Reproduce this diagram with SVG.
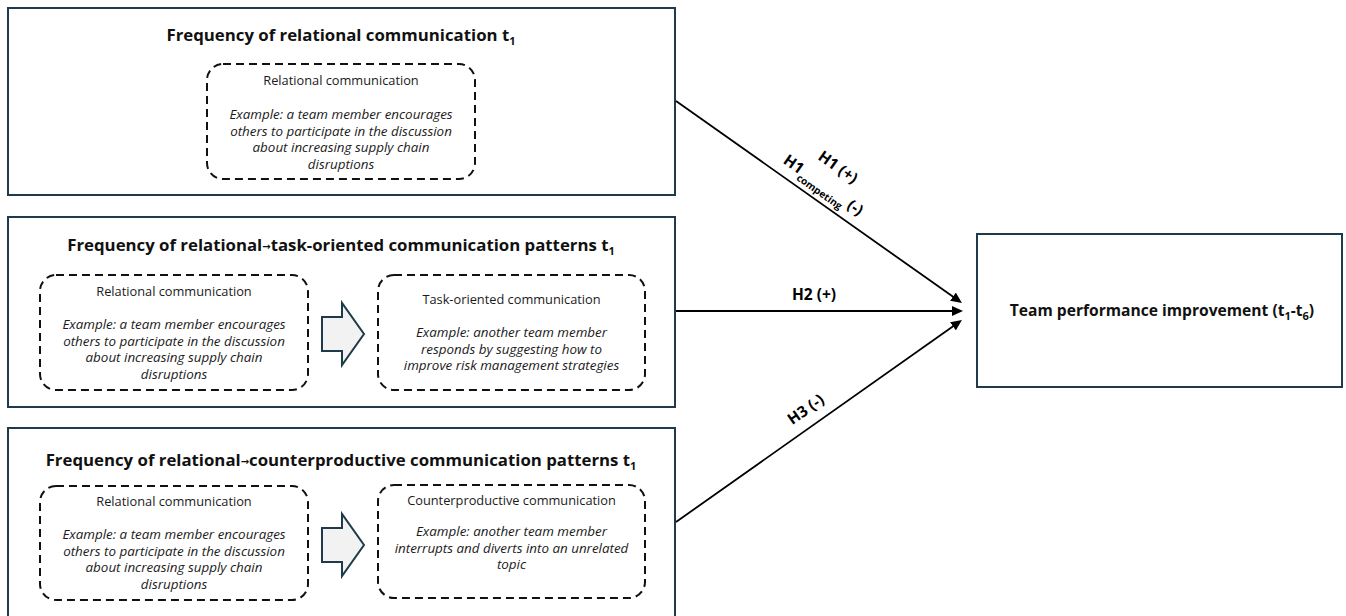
<svg xmlns="http://www.w3.org/2000/svg" width="1346" height="616" viewBox="0 0 1346 616">
  <defs>
    <style>
      .frame { fill: #ffffff; stroke: #1f3a4b; stroke-width: 2; }
      .dash { fill: none; stroke: #111111; stroke-width: 2; stroke-dasharray: 8 5; }
      .title { font-family: "Open Sans", "Liberation Sans", sans-serif; font-weight: bold; font-size: 16.8px; fill: #111111; text-anchor: middle; }
      .goal { font-family: "Open Sans", "Liberation Sans", sans-serif; font-weight: bold; font-size: 15.6px; fill: #111111; text-anchor: middle; }
      .head { font-family: "Open Sans", "Liberation Sans", sans-serif; font-size: 12.8px; fill: #1a1a1a; text-anchor: middle; }
      .ex { font-family: "Open Sans", "Liberation Sans", sans-serif; font-style: italic; font-size: 13.4px; fill: #1a1a1a; text-anchor: middle; }
      .sub { font-size: 11px; }
      .arw { font-family: "DejaVu Sans", sans-serif; font-size: 10px; font-weight: bold; }
      .block { fill: #f2f2f2; stroke: #1f3a4b; stroke-width: 2; stroke-linejoin: miter; }
      .link { fill: none; stroke: #000000; stroke-width: 1.8; }
      .lbl { font-family: "Open Sans", "Liberation Sans", sans-serif; font-weight: bold; font-size: 15.5px; fill: #000000; }
    </style>
    <marker id="ah" markerUnits="userSpaceOnUse" markerWidth="12" markerHeight="10" refX="8" refY="5" orient="auto">
      <path d="M0,0 L11,5 L0,10 z" fill="#000000"/>
    </marker>
  </defs>

  <rect width="1346" height="616" fill="#ffffff"/>

  <!-- Predictor 1: relational communication -->
  <g id="node-relational">
    <rect class="frame" x="8" y="8" width="667" height="187"/>
    <text class="title" x="341" y="41">Frequency of relational communication t<tspan class="sub" dy="4">1</tspan></text>
    <rect class="dash" x="207" y="64" width="268" height="115" rx="16"/>
    <text class="head" x="341" y="85">Relational communication</text>
    <text class="ex" x="341" y="119">Example: a team member encourages</text>
    <text class="ex" x="341" y="135.5">others to participate in the discussion</text>
    <text class="ex" x="341" y="152">about increasing supply chain</text>
    <text class="ex" x="341" y="168.5">disruptions</text>
  </g>

  <!-- Predictor 2: relational -> task-oriented pattern -->
  <g id="node-task-pattern">
    <rect class="frame" x="8" y="217" width="667" height="190"/>
    <text class="title" x="341" y="251">Frequency of relational<tspan class="arw" dy="-1">→</tspan><tspan dy="1">task-oriented communication patterns t</tspan><tspan class="sub" dy="4">1</tspan></text>
    <rect class="dash" x="40" y="275" width="268" height="115" rx="16"/>
    <text class="head" x="174" y="296">Relational communication</text>
    <text class="ex" x="174" y="329">Example: a team member encourages</text>
    <text class="ex" x="174" y="345.5">others to participate in the discussion</text>
    <text class="ex" x="174" y="362">about increasing supply chain</text>
    <text class="ex" x="174" y="378.5">disruptions</text>
    <path class="block" d="M322,317 H342 V303 L364,334 L342,365 V351 H322 Z"/>
    <rect class="dash" x="378" y="275" width="267" height="115" rx="16"/>
    <text class="head" x="511.5" y="304">Task-oriented communication</text>
    <text class="ex" x="511.5" y="337">Example: another team member</text>
    <text class="ex" x="511.5" y="353.5">responds by suggesting how to</text>
    <text class="ex" x="511.5" y="370">improve risk management strategies</text>
  </g>

  <!-- Predictor 3: relational -> counterproductive pattern -->
  <g id="node-counter-pattern">
    <rect class="frame" x="8" y="428" width="667" height="200"/>
    <text class="title" x="341" y="466">Frequency of relational<tspan class="arw" dy="-1">→</tspan><tspan dy="1">counterproductive communication patterns t</tspan><tspan class="sub" dy="4">1</tspan></text>
    <rect class="dash" x="40" y="486" width="268" height="114" rx="16"/>
    <text class="head" x="174" y="506">Relational communication</text>
    <text class="ex" x="174" y="539">Example: a team member encourages</text>
    <text class="ex" x="174" y="555.5">others to participate in the discussion</text>
    <text class="ex" x="174" y="572">about increasing supply chain</text>
    <text class="ex" x="174" y="588.5">disruptions</text>
    <path class="block" d="M322,528 H342 V514 L364,545 L342,576 V562 H322 Z"/>
    <rect class="dash" x="378" y="485" width="267" height="113" rx="16"/>
    <text class="head" x="511.5" y="505">Counterproductive communication</text>
    <text class="ex" x="511.5" y="536">Example: another team member</text>
    <text class="ex" x="511.5" y="552.5">interrupts and diverts into an unrelated</text>
    <text class="ex" x="511.5" y="569">topic</text>
  </g>

  <!-- Outcome -->
  <g id="node-outcome">
    <rect class="frame" x="977" y="234" width="365" height="153"/>
    <text class="goal" x="1162" y="316">Team performance improvement (t<tspan class="sub" dy="4">1</tspan><tspan dy="-4">-t</tspan><tspan class="sub" dy="4">6</tspan><tspan dy="-4">)</tspan></text>
  </g>

  <!-- Hypothesised paths -->
  <g id="connectors">
    <path class="link" d="M676,101 L959.5,301.3" marker-end="url(#ah)"/>
    <path class="link" d="M676,311 L960,311" marker-end="url(#ah)"/>
    <path class="link" d="M676,522 L959.5,321.7" marker-end="url(#ah)"/>

    <g transform="translate(676,101) rotate(35.2)">
      <text class="lbl" x="170.5" y="-34" text-anchor="middle">H1 (+)</text>
      <text class="lbl" x="169" y="-11" text-anchor="middle">H1<tspan font-size="10px" dy="6">competing</tspan><tspan dy="-6"> (-)</tspan></text>
    </g>
    <text class="lbl" x="814" y="300" text-anchor="middle">H2 (+)</text>
    <g transform="translate(676,522) rotate(-35.2)">
      <text class="lbl" x="171" y="-12" text-anchor="middle">H3 (-)</text>
    </g>
  </g>
</svg>
